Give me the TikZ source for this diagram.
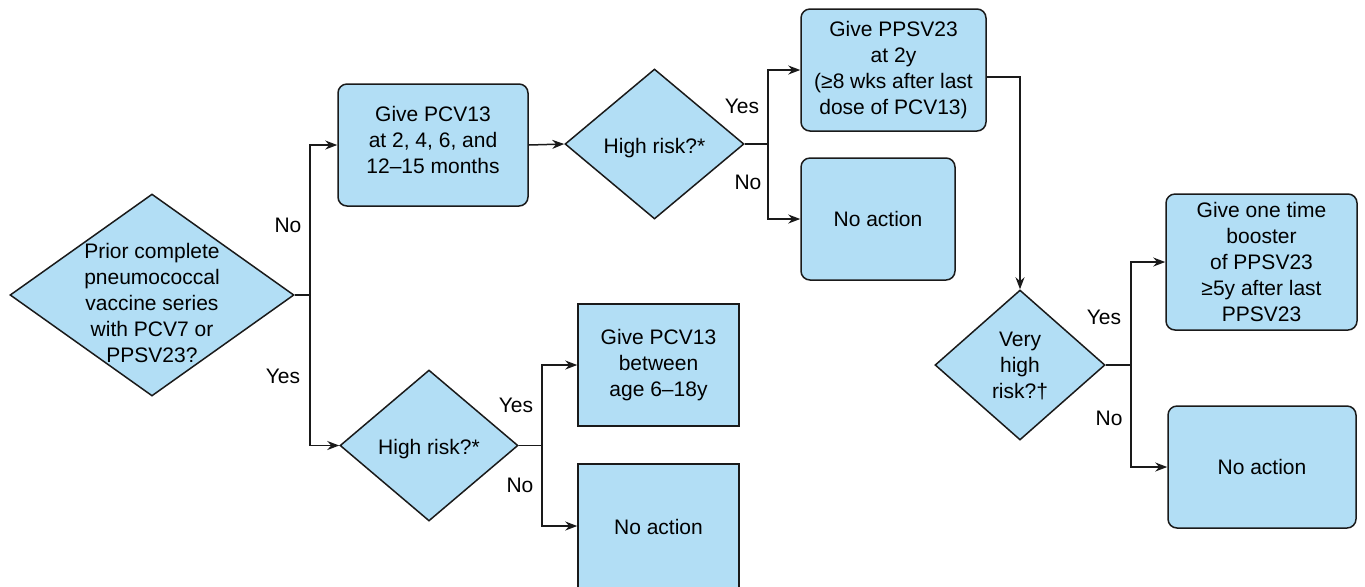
\documentclass[tikz,border=0pt]{standalone}
\usepackage{fontspec}
\setmainfont{Liberation Sans}
\usetikzlibrary{shapes.geometric,arrows.meta}
\definecolor{boxfill}{HTML}{B2DEF5}
\definecolor{edge}{HTML}{1A1A1A}
\tikzset{
  box/.style={draw=edge, fill=boxfill, line width=0.75pt, rounded corners=4.5pt, align=center, inner sep=0pt},
  sqbox/.style={box, rounded corners=0pt},
  dia/.style={diamond, draw=edge, fill=boxfill, line width=0.75pt, inner sep=0pt},
  dtxt/.style={align=center, inner sep=0pt, yshift=-2pt},
  line/.style={draw=edge, line width=0.75pt},
  arr/.style={line, -{Stealth[length=6pt,width=4.5pt]}},
  lab/.style={inner sep=0pt},
}
\begin{document}
\begin{tikzpicture}[x=0.5pt,y=-0.5pt,font=\fontsize{10.5}{13}\selectfont]
  \useasboundingbox (0,0) rectangle (1365,586);

  % decisions
  \node[dia, minimum width=142pt, minimum height=101pt] (q1) at (152,295) {};
  \node[dtxt, yshift=-2pt] (q1t) at (q1) {Prior complete\\pneumococcal\\vaccine series\\with PCV7 or\\PPSV23?};
  \node[dia, minimum width=89.5pt, minimum height=75pt] (q2) at (654.5,144) {};
  \node[dtxt] (q2t) at (q2) {High risk?*};
  \node[dia, minimum width=89pt, minimum height=75.5pt] (q3) at (429,445.5) {};
  \node[dtxt] (q3t) at (q3) {High risk?*};
  \node[dia, minimum width=85pt, minimum height=75pt] (q4) at (1020,365) {};
  \node[dtxt, yshift=1.5pt] (q4t) at (q4) {Very\\high\\risk?\textdagger};

  % actions
  \node[box, minimum width=95pt, minimum height=61pt] (b1) at (433,145)
    {Give PCV13\\at 2, 4, 6, and\\12--15 months\rule[-5pt]{0pt}{5pt}};
  \node[box, minimum width=92.5pt, minimum height=61pt] (b2) at (893.5,70)
    {Give PPSV23\\at 2y\\(≥8 wks after last\\dose of PCV13)};
  \node[box, minimum width=77pt, minimum height=61pt] (b3) at (878,219) {No action};
  \node[box, minimum width=95.5pt, minimum height=68pt] (b4) at (1261.5,262)
    {Give one time\\booster\\of PPSV23\\≥5y after last\\PPSV23};
  \node[box, minimum width=94pt, minimum height=61pt] (b5) at (1262,467) {No action};
  \node[sqbox, minimum width=80.5pt, minimum height=61pt] (b6) at (658.5,365)
    {Give PCV13\\between\\age 6--18y};
  \node[sqbox, minimum width=80.5pt, minimum height=65pt] (b7) at (658.5,529) {\raisebox{2pt}{No action}};

  % junctions
  \coordinate (j1) at (310,295);
  \coordinate (j2) at (768,144);
  \coordinate (j3) at (542,445.5);
  \coordinate (j4) at (1131,365);

  \draw[line] (q1.east) -- (j1);
  \draw[arr] (j1) |- (b1.west);
  \draw[arr] (j1) |- (q3.west);
  \draw[arr] (b1.east) -- (q2.west);
  \draw[line] (q2.east) -- (j2);
  \draw[arr] (j2) |- (b2.west);
  \draw[arr] (j2) |- (b3.west);
  \draw[arr] ([yshift=-3.5pt]b2.east) -| (q4.north);
  \draw[line] (q3.east) -- (j3);
  \draw[arr] (j3) |- (b6.west);
  \draw[arr] (j3) |- ([yshift=1.5pt]b7.west);
  \draw[line] (q4.east) -- (j4);
  \draw[arr] (j4) |- (b4.west);
  \draw[arr] (j4) |- (b5.west);

  % branch labels
  \node[lab] (n1) at (288,225) {No};
  \node[lab] (y1) at (283,376) {Yes};
  \node[lab] (y2) at (742,106) {Yes};
  \node[lab] (n2) at (748,182) {No};
  \node[lab] (y3) at (516,405) {Yes};
  \node[lab] (n3) at (520,485) {No};
  \node[lab] (y4) at (1104,317) {Yes};
  \node[lab] (n4) at (1109,418) {No};
\end{tikzpicture}
\end{document}
